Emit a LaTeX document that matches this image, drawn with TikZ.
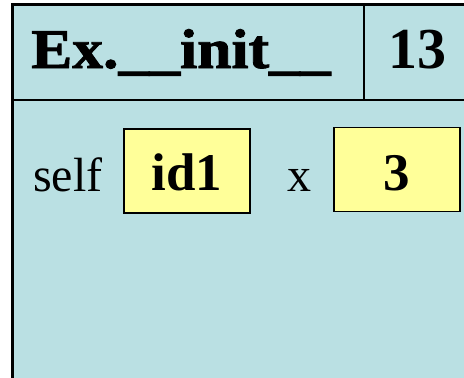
\documentclass[tikz,border=0pt]{standalone}
\usepackage{fontspec}
\setmainfont{Liberation Serif}
\newfontfamily\headfont[FakeBold=1.5]{Liberation Serif}
\usetikzlibrary{positioning}
\definecolor{framebg}{HTML}{BAE0E3}
\definecolor{varbg}{HTML}{FFFF99}
\tikzset{
  varbox/.style={draw=black, line width=1.6pt, fill=varbg, minimum width=126pt, minimum height=84pt, inner sep=0pt},
  varname/.style={font=\fontsize{48}{48}\selectfont, inner sep=0pt},
  varval/.style={font=\fontsize{53}{53}\selectfont\bfseries},
}
\begin{document}
\begin{tikzpicture}[x=1pt, y=-1pt]
\useasboundingbox (0,0) rectangle (464,378);
\fill[framebg] (12.5,4.2) rectangle (470,385);
\draw[line width=3pt] (12.5,390) -- (12.5,4.2) -- (470,4.2);
\draw[line width=2.4pt] (12.5,100) -- (470,100);
\draw[line width=2.6pt] (364,4.2) -- (364,100);
\node[font=\fontsize{56}{56}\selectfont\headfont\bfseries, anchor=base west, inner sep=0pt] (title) at (31,68) {\scalebox{1.1}[1]{Ex.\_\_init\_\_}};
\node[font=\fontsize{58}{58}\selectfont\bfseries, anchor=base, inner sep=0pt] (line) at (417,68) {13};
\node[varbox] (selfbox) at (187,170.8) {};
\node[varval, anchor=base] (selfval) at (187,190) {id1};
\node[varbox] (xbox) at (396.7,169.5) {};
\node[varval, anchor=base] (xval) at (396.7,190) {3};
\node[varname, anchor=base west] (selfname) at (33,191.5) {self};
\node[varname, anchor=base] (xname) at (299.5,191.5) {x};
\end{tikzpicture}
\end{document}
